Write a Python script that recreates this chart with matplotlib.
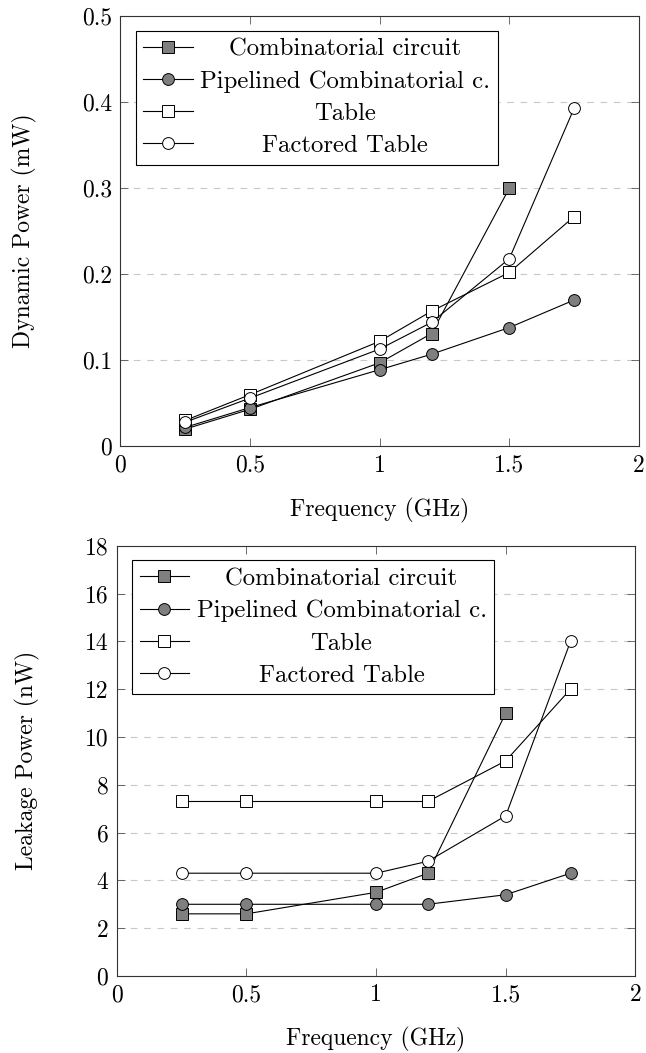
import matplotlib
matplotlib.use('Agg')
import matplotlib.pyplot as plt

plt.rcParams['font.family'] = 'cmr10'
plt.rcParams['mathtext.fontset'] = 'cm'
plt.rcParams['axes.formatter.use_mathtext'] = True
plt.rcParams['font.size'] = 17

# frequencies (GHz)
freq_comb = [0.25, 0.5, 1.0, 1.2, 1.5]
freq_all = [0.25, 0.5, 1.0, 1.2, 1.5, 1.75]

# dynamic power (mW)
dyn_comb = [0.020, 0.043, 0.097, 0.131, 0.300]
dyn_pipe = [0.022, 0.045, 0.089, 0.107, 0.138, 0.170]
dyn_table = [0.030, 0.060, 0.122, 0.157, 0.202, 0.267]
dyn_fact = [0.028, 0.056, 0.113, 0.144, 0.218, 0.393]

# leakage power (nW)
leak_comb = [2.6, 2.6, 3.5, 4.3, 11.0]
leak_pipe = [3.0, 3.0, 3.0, 3.0, 3.4, 4.3]
leak_table = [7.3, 7.3, 7.3, 7.3, 9.0, 12.0]
leak_fact = [4.3, 4.3, 4.3, 4.8, 6.7, 14.0]

labels = ['Combinatorial circuit', 'Pipelined Combinatorial c.', 'Table', 'Factored Table']

x_ticks = [0, 0.5, 1, 1.5, 2]
x_ticklabels = ['0', '0.5', '1', '1.5', '2']
dyn_ticks = [0, 0.1, 0.2, 0.3, 0.4, 0.5]
dyn_ticklabels = ['0', '0.1', '0.2', '0.3', '0.4', '0.5']
leak_ticks = [0, 2, 4, 6, 8, 10, 12, 14, 16, 18]
leak_ticklabels = ['0', '2', '4', '6', '8', '10', '12', '14', '16', '18']

styles = [
    dict(marker='s', markerfacecolor='#7f7f7f'),
    dict(marker='o', markerfacecolor='#7f7f7f'),
    dict(marker='s', markerfacecolor='white'),
    dict(marker='o', markerfacecolor='white'),
]

fig = plt.figure(figsize=(6.46, 10.53), dpi=100)
W, H = 646, 1053
ax1 = fig.add_axes([120.3 / W, 1 - 446.3 / H, 518.7 / W, 430.3 / H])
ax2 = fig.add_axes([116.7 / W, 1 - 976 / H, 518.7 / W, 430.3 / H])


def draw(ax, series, yticks, yticklabels, ylim, ylabel):
    for (xs, ys), st, lab in zip(series, styles, labels):
        ax.plot(xs, ys, color='black', linewidth=0.8, markersize=8.5,
                markeredgecolor='black', markeredgewidth=0.7, label=lab, **st)
    ax.set_xlim(0, 2)
    ax.set_ylim(*ylim)
    ax.set_xticks(x_ticks)
    ax.set_xticklabels(x_ticklabels)
    ax.set_yticks(yticks)
    ax.set_yticklabels(yticklabels)
    ax.tick_params(direction='in', top=True, right=True, length=6, width=0.6,
                   color='#555555', pad=6)
    ax.yaxis.grid(True, linestyle=(0, (6, 6)), color='#c8c8c8', linewidth=0.8)
    ax.set_axisbelow(True)
    for sp in ax.spines.values():
        sp.set_linewidth(0.8)
        sp.set_color('#333333')
    ax.set_xlabel('Frequency (GHz)', labelpad=15)
    ax.set_ylabel(ylabel, labelpad=32)
    leg = ax.legend(loc='upper left', bbox_to_anchor=(0.03, 0.966), fancybox=False,
                    edgecolor='black', framealpha=1, fontsize=17.8, handlelength=2.0,
                    handletextpad=0.3, borderpad=0.3, labelspacing=0.4,
                    borderaxespad=0)
    leg.get_frame().set_linewidth(0.8)
    return leg


leg1 = draw(ax1, [(freq_comb, dyn_comb), (freq_all, dyn_pipe), (freq_all, dyn_table),
                  (freq_all, dyn_fact)], dyn_ticks, dyn_ticklabels, (0, 0.5),
            'Dynamic Power (mW)')
leg2 = draw(ax2, [(freq_comb, leak_comb), (freq_all, leak_pipe), (freq_all, leak_table),
                  (freq_all, leak_fact)], leak_ticks, leak_ticklabels, (0, 18),
            'Leakage Power (nW)')

# centre the legend texts like pgfplots does
fig.canvas.draw()
r = fig.canvas.get_renderer()
for leg in (leg1, leg2):
    texts = leg.get_texts()
    ws = [t.get_window_extent(r).width for t in texts]
    mw = max(ws)
    for t, w in zip(texts, ws):
        t.set_position(((mw - w) / 2, 0))

fig.savefig('out.png', dpi=100)
